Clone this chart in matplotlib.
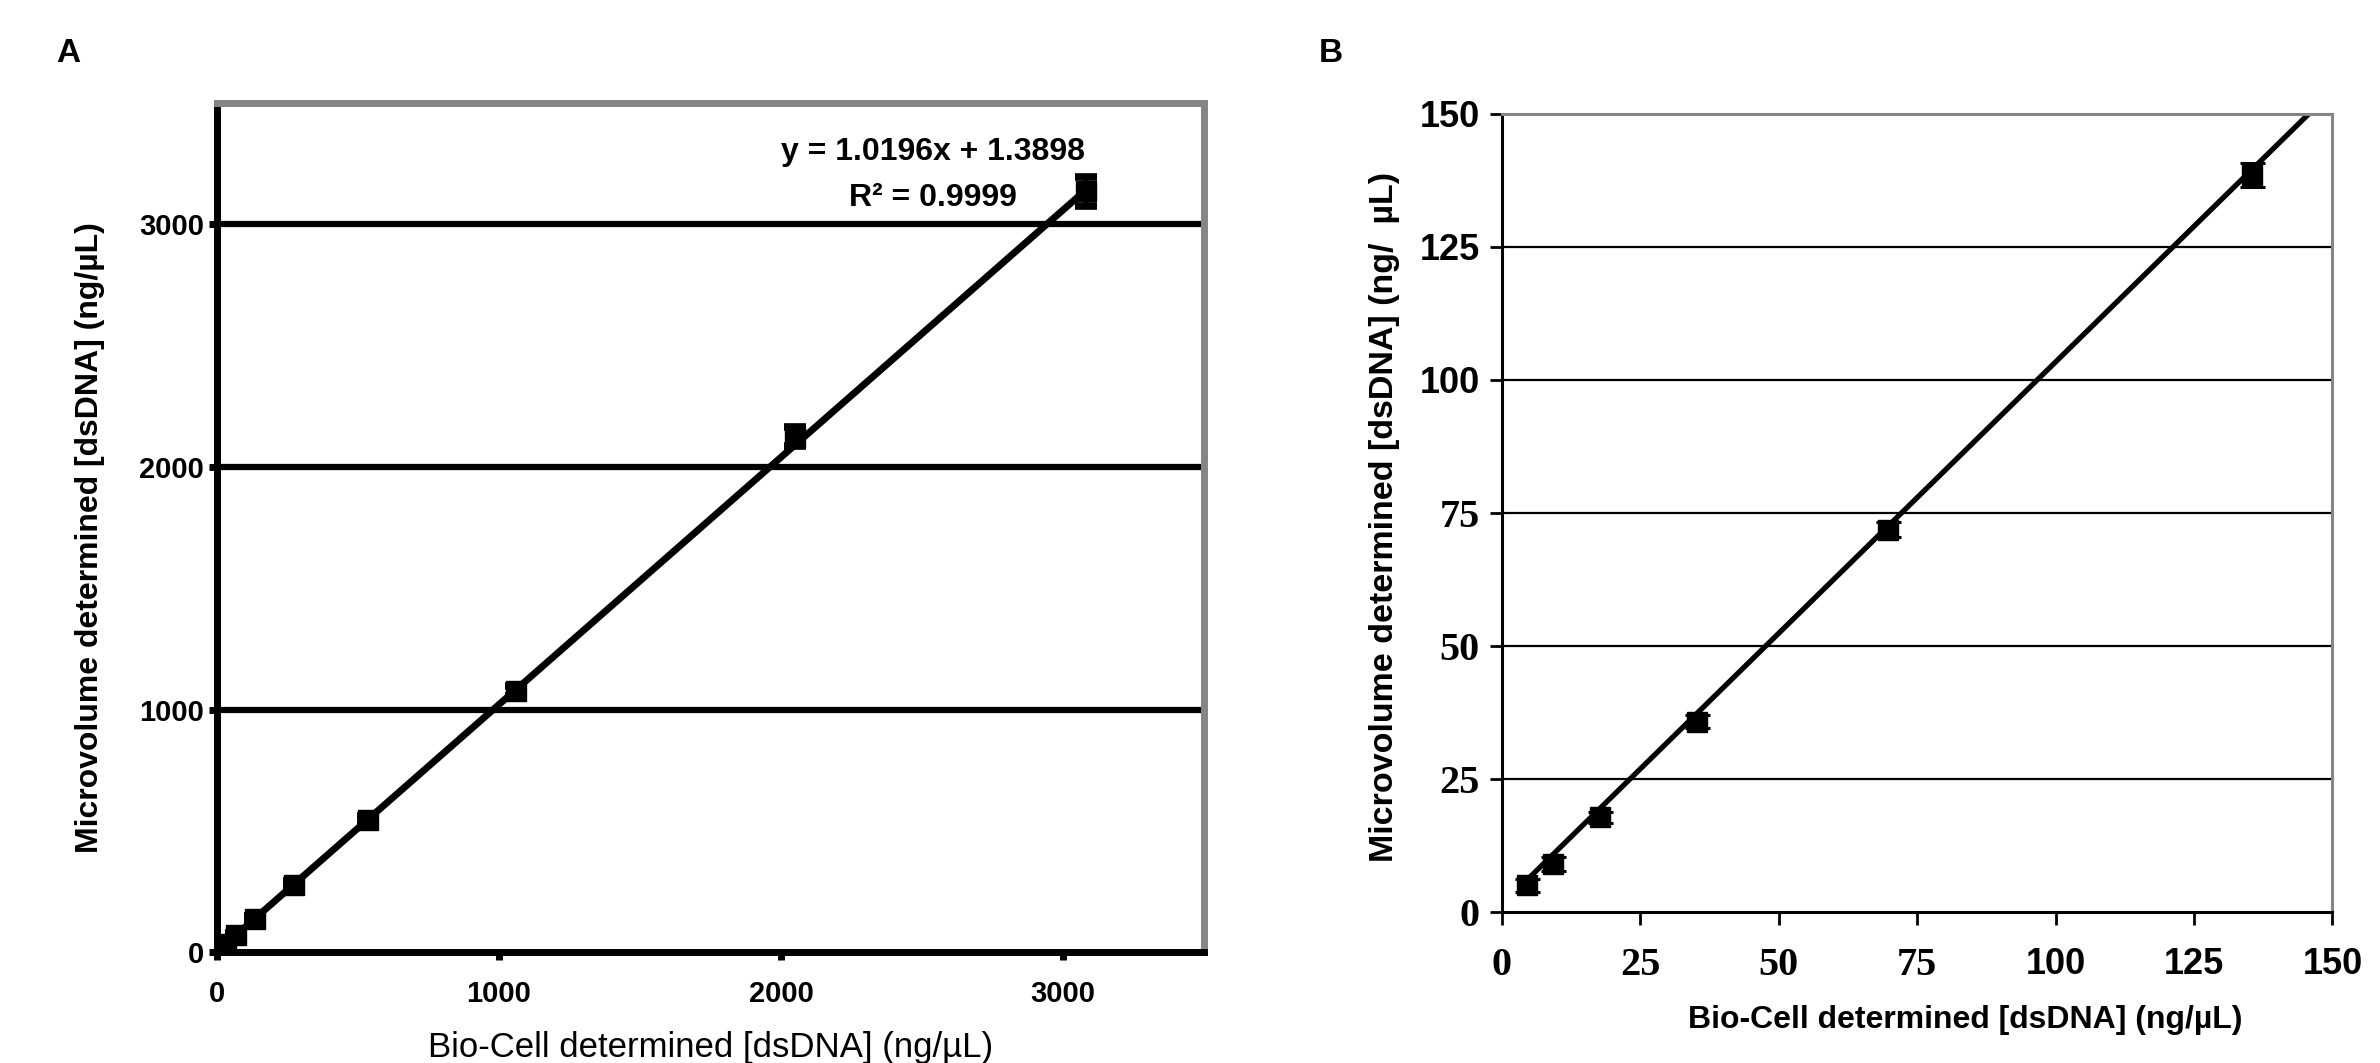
import numpy as np
import matplotlib
matplotlib.use('Agg')
import matplotlib.pyplot as plt

# fonts: Arial look, with fallbacks
SANS = ['Liberation Sans Narrow', 'Liberation Sans', 'DejaVu Sans']
SERIF = ['Liberation Serif', 'DejaVu Serif']
plt.rcParams['font.family'] = SANS

#---------------
# DATA
#---------------
# panel A: full dilution series
xA = [4.5, 9.0, 17.5, 35.0, 70.0, 136.0, 273.0, 535.0, 1060.0, 2050.0, 3080.0]
yA = [5.0, 9.0, 18.0, 36.0, 72.0, 139.0, 280.0, 546.0, 1078.0, 2125.0, 3137.0]
errA = [3, 3, 3, 5, 8, 10, 15, 15, 20, 40, 60]

# panel B: low range only
xB = [4.5, 9.2, 17.7, 35.2, 69.8, 135.5]
yB = [5.0, 9.0, 17.8, 35.8, 71.8, 138.5]
errB = [1.2, 1.3, 1.0, 1.3, 1.4, 2.2]

# linear trendline
slope = 1.0196
intercept = 1.3898
r2 = 0.9999

ticksA = [0, 1000, 2000, 3000]
ticksB = [0, 25, 50, 75, 100, 125, 150]

fig = plt.figure(figsize=(23.8, 10.63), dpi=100)

#---------------
# PANEL A
#---------------
axA = fig.add_axes([0.091, 0.104, 0.415, 0.799])
axA.set_xlim(0, 3500)
axA.set_ylim(0, 3500)
for y in ticksA[1:]:
    axA.axhline(y, color='black', lw=4.5, zorder=1)

xl = np.array([min(xA), max(xA)])
axA.plot(xl, slope * xl + intercept, color='black', lw=5, zorder=2, solid_capstyle='round')
eb = axA.errorbar(xA, yA, yerr=errA, fmt='s', color='black', ms=14, elinewidth=4,
                  capsize=8, capthick=5.5, zorder=3)

axA.set_xticks(ticksA)
axA.set_yticks(ticksA)
axA.tick_params(direction='out', length=6, width=5, labelsize=21)
axA.tick_params(axis='x', pad=14)
axA.tick_params(axis='y', pad=3)
for lab in axA.get_xticklabels() + axA.get_yticklabels():
    lab.set_fontweight('bold')
for s in ['left', 'bottom']:
    axA.spines[s].set_linewidth(5)
    axA.spines[s].set_color('black')
for s in ['top', 'right']:
    axA.spines[s].set_linewidth(5)
    axA.spines[s].set_color('#858585')

axA.text(2540, 3205, 'y = %.4fx + %.4f\nR\u00b2 = %.4f' % (slope, intercept, r2),
         ha='center', va='center', fontsize=23, fontweight='bold', linespacing=1.7)

axA.set_xlabel('Bio-Cell determined [dsDNA] (ng/\u00b5L)', fontsize=25)
axA.set_ylabel('Microvolume determined [dsDNA] (ng/\u00b5L)', fontsize=23, fontweight='bold')
axA.xaxis.label.set_va('center')
axA.yaxis.label.set_va('center')
axA.xaxis.set_label_coords(0.5, -0.112)
axA.yaxis.set_label_coords(-0.128, 0.488)

#---------------
# PANEL B
#---------------
axB = fig.add_axes([0.631, 0.142, 0.349, 0.751])
axB.set_xlim(0, 150)
axB.set_ylim(0, 150)
for y in ticksB[1:-1]:
    axB.axhline(y, color='black', lw=1.6, zorder=1)

xl = np.array([min(xB), 150.0])
axB.plot(xl, slope * xl + intercept, color='black', lw=3.8, zorder=2)
axB.errorbar(xB, yB, yerr=errB, fmt='s', color='black', ms=14, elinewidth=2,
             capsize=9, capthick=2.2, zorder=3)

axB.set_xticks(ticksB)
axB.set_yticks(ticksB)
axB.tick_params(direction='out', length=9, width=2)
axB.tick_params(axis='x', pad=16)
axB.tick_params(axis='y', pad=7)
# two-digit labels come out in a serif face in the original
for lab, v in zip(axB.get_xticklabels() + axB.get_yticklabels(), ticksB + ticksB):
    lab.set_fontweight('bold')
    if v < 100:
        lab.set_family(SERIF)
        lab.set_fontsize(29)
    else:
        lab.set_family(['Liberation Sans', 'DejaVu Sans'])
        lab.set_fontsize(26)
for s in ['left', 'bottom']:
    axB.spines[s].set_linewidth(2.2)
    axB.spines[s].set_color('black')
for s in ['top', 'right']:
    axB.spines[s].set_linewidth(2.2)
    axB.spines[s].set_color('#858585')

axB.set_xlabel('Bio-Cell determined [dsDNA] (ng/\u00b5L)', fontsize=23, fontweight='bold')
axB.set_ylabel('Microvolume determined [dsDNA] (ng/  \u00b5L)', fontsize=24.5, fontweight='bold')
axB.xaxis.label.set_va('center')
axB.yaxis.label.set_va('center')
axB.xaxis.set_label_coords(0.558, -0.135)
axB.yaxis.set_label_coords(-0.141, 0.495)

# panel letters
fig.text(68 / 2380, 1 - 53 / 1063, 'A', fontsize=24, ha='center', va='center',
         fontweight='bold', family=['Liberation Sans', 'DejaVu Sans'])
fig.text(1331 / 2380, 1 - 53 / 1063, 'B', fontsize=24, ha='center', va='center',
         fontweight='bold', family=['Liberation Sans', 'DejaVu Sans'])

fig.savefig('out.png', dpi=100)
